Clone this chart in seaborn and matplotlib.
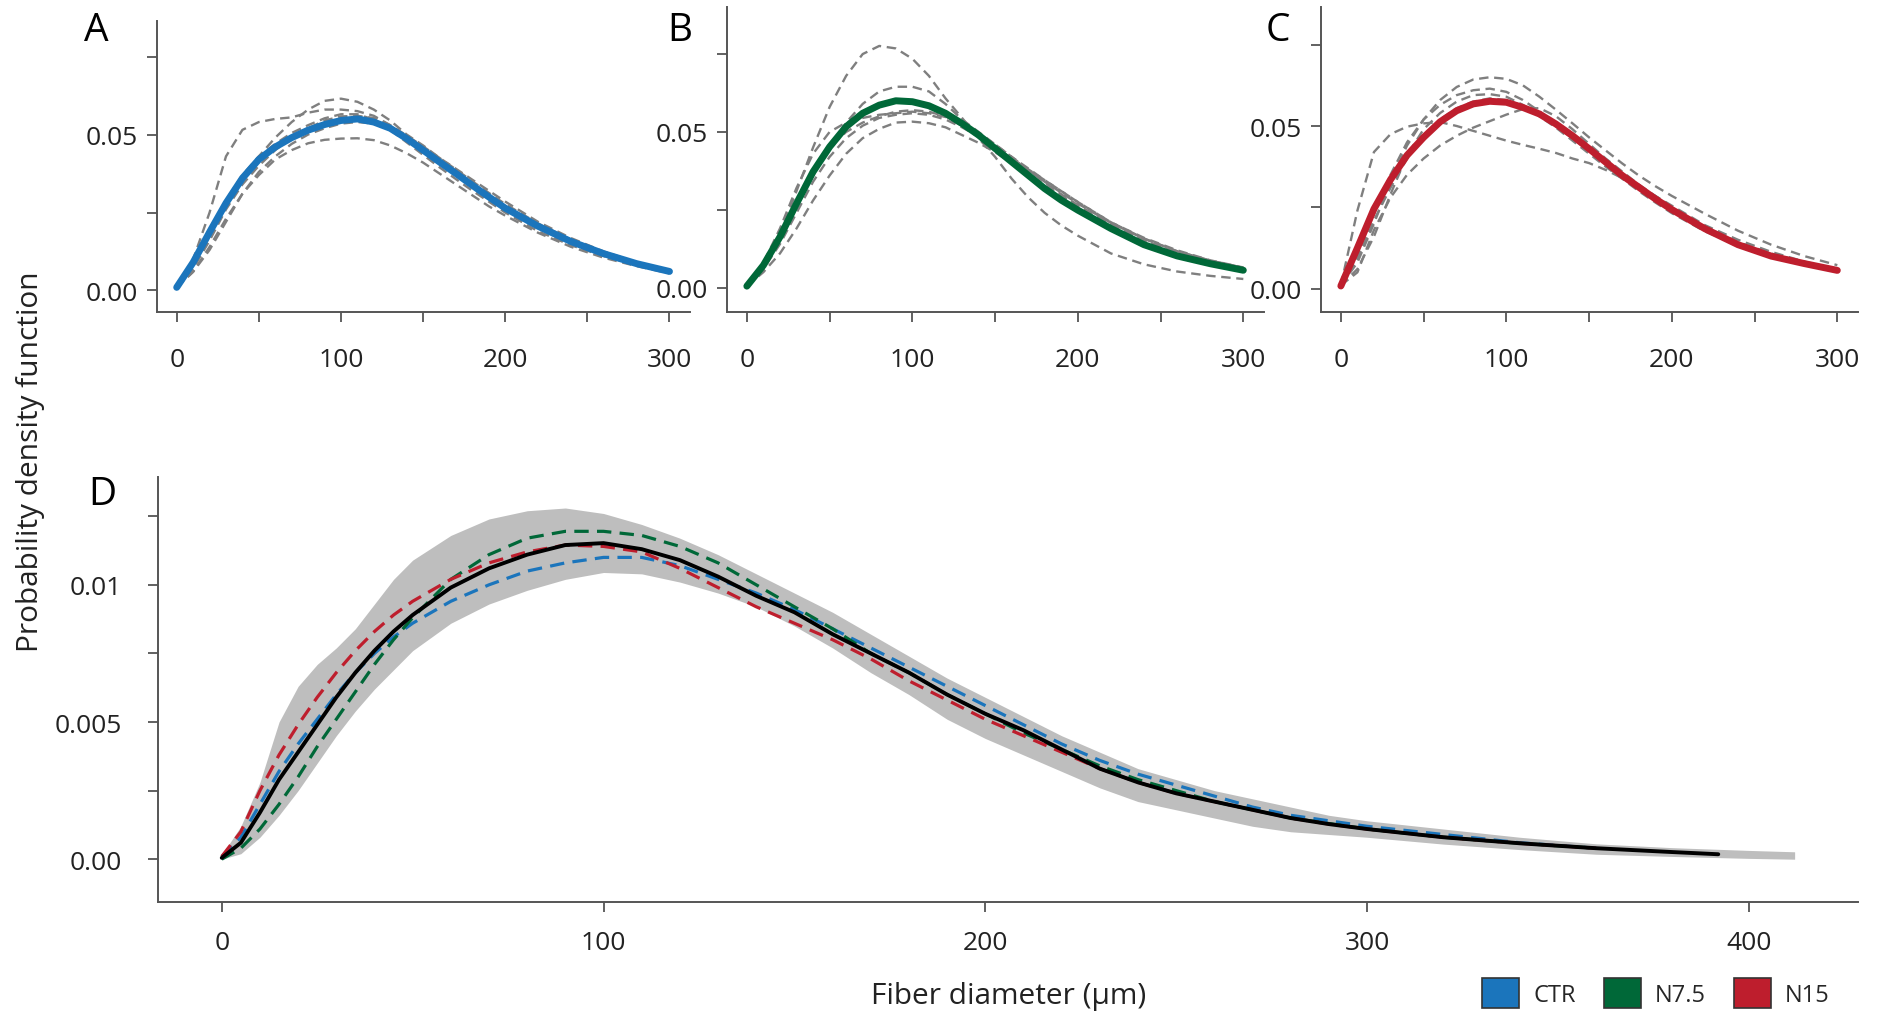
import matplotlib
matplotlib.use("Agg")
import matplotlib.pyplot as plt
from matplotlib.patches import Patch
import seaborn as sns

# ---------------- data ----------------
# panels A-C: fiber diameter grid (um)
x_top = [0, 10, 20, 30, 40, 50, 60, 70, 80, 90, 100, 110, 120, 130, 140, 150,
         160, 170, 180, 190, 200, 220, 240, 260, 280, 300]

ctr_mean = [0.001, 0.009, 0.0187, 0.028, 0.036, 0.042, 0.046, 0.049, 0.0514, 0.0532, 0.0545, 0.055, 0.054,
            0.052, 0.0487, 0.045, 0.0412, 0.0375, 0.0337, 0.030, 0.0264, 0.0206, 0.0157, 0.0118, 0.0086, 0.0061]
ctr_animals = [
    [0.001, 0.009, 0.019, 0.028, 0.036, 0.043, 0.049, 0.054, 0.058, 0.0608, 0.0615, 0.0605, 0.058, 0.0545,
     0.050, 0.0465, 0.0425, 0.039, 0.0355, 0.032, 0.0285, 0.022, 0.0168, 0.0125, 0.009, 0.0065],
    [0.001, 0.010, 0.025, 0.043, 0.0515, 0.054, 0.055, 0.0555, 0.057, 0.058, 0.058, 0.0575, 0.056, 0.053,
     0.049, 0.045, 0.041, 0.0372, 0.0335, 0.030, 0.0265, 0.0205, 0.0155, 0.0116, 0.0085, 0.006],
    [0.001, 0.006, 0.014, 0.023, 0.031, 0.037, 0.042, 0.045, 0.0472, 0.0483, 0.0487, 0.0488, 0.0482, 0.0465,
     0.044, 0.041, 0.0375, 0.034, 0.0305, 0.027, 0.024, 0.0185, 0.014, 0.0105, 0.0078, 0.0055],
    [0.001, 0.007, 0.016, 0.026, 0.034, 0.040, 0.045, 0.049, 0.052, 0.0545, 0.0558, 0.056, 0.0553, 0.053,
     0.0497, 0.0462, 0.0425, 0.0388, 0.035, 0.0313, 0.0277, 0.0215, 0.0163, 0.0122, 0.009, 0.0065],
    [0.001, 0.008, 0.018, 0.029, 0.037, 0.043, 0.047, 0.0505, 0.053, 0.0552, 0.0565, 0.0565, 0.0548, 0.0515,
     0.0475, 0.0435, 0.0395, 0.0357, 0.032, 0.0285, 0.025, 0.019, 0.0145, 0.011, 0.0082, 0.006],
    [0.001, 0.006, 0.013, 0.022, 0.031, 0.038, 0.043, 0.047, 0.050, 0.052, 0.0535, 0.054, 0.0535, 0.0515,
     0.0485, 0.045, 0.041, 0.0375, 0.034, 0.0305, 0.027, 0.021, 0.016, 0.012, 0.0088, 0.0063],
]

n75_mean = [0.0005, 0.0072, 0.0163, 0.027, 0.0372, 0.0452, 0.0517, 0.056, 0.0586, 0.060, 0.0597, 0.0584, 0.056,
            0.0527, 0.049, 0.0447, 0.0404, 0.0361, 0.0318, 0.0281, 0.0249, 0.019, 0.0138, 0.0102, 0.0077, 0.0056]
n75_animals = [
    [0.0005, 0.007, 0.017, 0.031, 0.045, 0.058, 0.068, 0.075, 0.0776, 0.0768, 0.0735, 0.068, 0.0608, 0.0545,
     0.048, 0.042, 0.035, 0.029, 0.024, 0.020, 0.0167, 0.011, 0.0075, 0.0052, 0.0038, 0.0028],
    [0.0005, 0.006, 0.015, 0.026, 0.036, 0.045, 0.053, 0.059, 0.063, 0.0645, 0.0645, 0.063, 0.059, 0.054,
     0.050, 0.046, 0.042, 0.0378, 0.0338, 0.030, 0.0265, 0.0205, 0.0152, 0.0113, 0.0085, 0.0062],
    [0.0005, 0.005, 0.011, 0.019, 0.028, 0.036, 0.043, 0.048, 0.051, 0.053, 0.0533, 0.0528, 0.0515, 0.049,
     0.0465, 0.0435, 0.040, 0.0365, 0.033, 0.0295, 0.026, 0.020, 0.015, 0.0112, 0.0083, 0.006],
    [0.0005, 0.006, 0.014, 0.024, 0.034, 0.042, 0.048, 0.052, 0.0545, 0.0555, 0.056, 0.0555, 0.054, 0.0515,
     0.0485, 0.045, 0.0415, 0.038, 0.0345, 0.031, 0.0275, 0.021, 0.0158, 0.0117, 0.0087, 0.0064],
    [0.0005, 0.008, 0.019, 0.032, 0.043, 0.050, 0.053, 0.0545, 0.0555, 0.056, 0.0565, 0.056, 0.0548, 0.052,
     0.0488, 0.0452, 0.0415, 0.0378, 0.034, 0.0305, 0.027, 0.0208, 0.0157, 0.0117, 0.0087, 0.0064],
    [0.0005, 0.007, 0.016, 0.027, 0.037, 0.045, 0.050, 0.053, 0.055, 0.0565, 0.057, 0.0565, 0.055, 0.0525,
     0.0495, 0.046, 0.042, 0.0383, 0.0345, 0.031, 0.0275, 0.021, 0.016, 0.012, 0.0088, 0.0065],
]

n15_mean = [0.0008, 0.0125, 0.0245, 0.0335, 0.041, 0.0465, 0.0513, 0.0547, 0.0568, 0.0576, 0.0573, 0.0557, 0.0537,
            0.0506, 0.047, 0.043, 0.0389, 0.0348, 0.0312, 0.0276, 0.0243, 0.0184, 0.0135, 0.010, 0.0077, 0.0056]
n15_animals = [
    [0.001, 0.008, 0.020, 0.033, 0.044, 0.052, 0.058, 0.062, 0.0643, 0.065, 0.0645, 0.0625, 0.059, 0.055,
     0.0508, 0.0465, 0.0425, 0.0385, 0.0348, 0.0315, 0.0285, 0.023, 0.0178, 0.0135, 0.010, 0.0072],
    [0.001, 0.010, 0.023, 0.035, 0.045, 0.052, 0.0565, 0.0595, 0.061, 0.0615, 0.0605, 0.058, 0.0545, 0.0505,
     0.0465, 0.0425, 0.0385, 0.0345, 0.031, 0.0275, 0.024, 0.018, 0.0135, 0.0103, 0.0078, 0.0058],
    [0.001, 0.006, 0.016, 0.029, 0.041, 0.049, 0.054, 0.0575, 0.0595, 0.0598, 0.059, 0.0565, 0.053, 0.0495,
     0.0455, 0.0415, 0.0375, 0.0338, 0.030, 0.0265, 0.0232, 0.0176, 0.0132, 0.0098, 0.0074, 0.0055],
    [0.001, 0.024, 0.042, 0.0475, 0.0498, 0.0508, 0.0512, 0.050, 0.0485, 0.047, 0.0455, 0.0442, 0.043, 0.0417,
     0.040, 0.0386, 0.0365, 0.034, 0.031, 0.0285, 0.0255, 0.0195, 0.015, 0.0113, 0.0083, 0.0058],
    [0.001, 0.005, 0.018, 0.028, 0.035, 0.040, 0.044, 0.047, 0.0495, 0.0515, 0.0535, 0.0552, 0.0555, 0.053,
     0.049, 0.0445, 0.040, 0.036, 0.032, 0.0285, 0.025, 0.019, 0.0143, 0.0108, 0.0081, 0.006],
    [0.001, 0.009, 0.021, 0.031, 0.040, 0.047, 0.052, 0.0555, 0.0575, 0.0585, 0.058, 0.0562, 0.0535, 0.050,
     0.0462, 0.0423, 0.0385, 0.0345, 0.031, 0.0273, 0.024, 0.0182, 0.0136, 0.0101, 0.0076, 0.0056],
]

# panel D: pooled density, min-max band and group means
x_band = [0, 5, 10, 15, 20, 25, 30, 35, 40, 45, 50, 60, 70, 80, 90, 100, 110, 120, 130, 140, 150, 160, 170,
          180, 190, 200, 210, 220, 230, 240, 250, 260, 270, 280, 290, 300, 320, 340, 360, 380, 400, 412]
band_high = [0.00015, 0.0012, 0.0028, 0.0050, 0.0063, 0.0071, 0.0077, 0.0084, 0.0093, 0.0102, 0.0109, 0.0118,
             0.0124, 0.0127, 0.0128, 0.0126, 0.0122, 0.0117, 0.0111, 0.0104, 0.0097, 0.0090, 0.0082, 0.0074,
             0.0066, 0.0059, 0.0052, 0.0045, 0.0039, 0.0033, 0.0029, 0.0025, 0.0022, 0.0019, 0.0016, 0.0014,
             0.0011, 0.0008, 0.00056, 0.00042, 0.00032, 0.00027]
band_low = [0.0, 0.0002, 0.0008, 0.0016, 0.0025, 0.0035, 0.0045, 0.0054, 0.0062, 0.0069, 0.0076, 0.0086,
            0.0093, 0.0098, 0.0102, 0.01045, 0.0104, 0.0101, 0.0097, 0.0092, 0.0085, 0.0077, 0.0068, 0.0060,
            0.0051, 0.0044, 0.0038, 0.0032, 0.0026, 0.0021, 0.0018, 0.0015, 0.0012, 0.0010, 0.0009, 0.0008,
            0.00055, 0.00035, 0.00018, 0.0001, 0.00003, 0.0]

x_pool = [0, 5, 10, 15, 20, 25, 30, 35, 40, 45, 50, 60, 70, 80, 90, 100, 110, 120, 130, 140, 150, 160, 170,
          180, 190, 200, 210, 220, 230, 240, 250, 260, 270, 280, 290, 300, 320, 340, 360, 380, 392]
pool_mean = [0.00005, 0.0006, 0.0017, 0.0029, 0.0039, 0.0049, 0.0059, 0.0068, 0.0076, 0.0083, 0.0089, 0.0099,
             0.0106, 0.0111, 0.01145, 0.01152, 0.0113, 0.0109, 0.0103, 0.0096, 0.0090, 0.0082, 0.0075, 0.0068,
             0.0060, 0.0053, 0.0047, 0.0040, 0.0033, 0.0028, 0.0024, 0.0021, 0.0018, 0.0015, 0.00128, 0.0011,
             0.0008, 0.00058, 0.0004, 0.00026, 0.00018]

x_group = [0, 5, 10, 15, 20, 25, 30, 35, 40, 45, 50, 60, 70, 80, 90, 100, 110, 120, 130, 140, 150, 160, 170,
           180, 190, 200, 210, 220, 230, 240, 250, 260, 270, 280, 290, 300, 320, 340, 360]
ctr_group = [0.0001, 0.0008, 0.0020, 0.0032, 0.0042, 0.0051, 0.0060, 0.0068, 0.0075, 0.0081, 0.0086, 0.0094,
             0.0100, 0.0105, 0.0108, 0.0110, 0.0110, 0.0107, 0.0102, 0.0097, 0.0091, 0.0084, 0.0077, 0.0070,
             0.0063, 0.0056, 0.0049, 0.0042, 0.0036, 0.0031, 0.0027, 0.0023, 0.0019, 0.0016, 0.0014, 0.0012,
             0.0009, 0.0006, 0.0004]
n75_group = [0.0, 0.0004, 0.0011, 0.0020, 0.0030, 0.0041, 0.0051, 0.0061, 0.0071, 0.0080, 0.0088, 0.0102,
             0.0111, 0.0117, 0.01195, 0.01195, 0.0118, 0.0114, 0.0108, 0.0100, 0.0092, 0.0084, 0.0075, 0.0068,
             0.0060, 0.0053, 0.0046, 0.0040, 0.0034, 0.0029, 0.0025, 0.0021, 0.0018, 0.0015, 0.0013, 0.0011,
             0.0008, 0.00058, 0.0004]
n15_group = [0.0001, 0.0010, 0.0025, 0.0038, 0.0049, 0.0059, 0.0068, 0.0076, 0.0083, 0.0089, 0.0094, 0.0102,
             0.0108, 0.0112, 0.01145, 0.0114, 0.0112, 0.0106, 0.0099, 0.0092, 0.0086, 0.0080, 0.0073, 0.0065,
             0.0058, 0.0051, 0.0045, 0.0039, 0.0033, 0.0028, 0.0024, 0.0021, 0.0018, 0.0015, 0.00128, 0.0011,
             0.0008, 0.00058, 0.0004]

groups = ['CTR', 'N7.5', 'N15']
group_colors = ['#1b75bc', '#006838', '#be1e2d']

# ---------------- style ----------------
sns.set_theme(style="ticks")
plt.rcParams['font.family'] = ['Open Sans', 'DejaVu Sans']
AXIS_GREY = '#555555'
TEXT = '#222222'

W, H = 1881, 1020
fig = plt.figure(figsize=(W / 100, H / 100), dpi=100)


def rect(left, top, right, bottom):
    # pixel box -> figure fraction
    return [left / W, 1 - bottom / H, (right - left) / W, (bottom - top) / H]


def style_axis(ax, xpad, ypad):
    sns.despine(ax=ax)
    for s in ['left', 'bottom']:
        ax.spines[s].set_color(AXIS_GREY)
        ax.spines[s].set_linewidth(1.4)
    ax.tick_params(axis='both', length=7, width=1.3, color=AXIS_GREY,
                   labelcolor=TEXT, labelsize=19)
    ax.tick_params(axis='x', pad=xpad)
    ax.tick_params(axis='y', pad=ypad)
    ax.set_xlabel('')
    ax.set_ylabel('')
    ax.grid(False)


top_panels = [
    (rect(157, 22, 690, 313), ctr_mean, ctr_animals, group_colors[0], (-0.0069, 0.0864), 'A', 96),
    (rect(727, 8, 1264, 313), n75_mean, n75_animals, group_colors[1], (-0.0078, 0.0901), 'B', 680),
    (rect(1321, 8, 1858, 313), n15_mean, n15_animals, group_colors[2], (-0.0072, 0.0866), 'C', 1278),
]

for box, mean, animals, col, ylim, letter, lx in top_panels:
    ax = fig.add_axes(box)
    for a in animals:
        sns.lineplot(x=x_top, y=a, ax=ax, color='#7f7f7f', lw=1.7,
                     linestyle=(0, (4.0, 2.4)))
    sns.lineplot(x=x_top, y=mean, ax=ax, color=col, lw=5,
                 solid_capstyle='round', solid_joinstyle='round')
    ax.set_xlim(-12, 312.5)
    ax.set_ylim(*ylim)
    ax.set_xticks([0, 50, 100, 150, 200, 250, 300])
    ax.set_xticklabels(['0', '', '100', '', '200', '', '300'])
    ax.set_yticks([0, 0.025, 0.05, 0.075])
    ax.set_yticklabels(['0.00', '', '0.05', ''])
    style_axis(ax, xpad=18, ypad=7)
    fig.text(lx / W, 1 - 31 / H, letter, fontsize=28, color='black',
             ha='center', va='center')

# panel D
axd = fig.add_axes(rect(158, 478, 1858, 903))
axd.fill_between(x_band, band_low, band_high, color='#bebebe', lw=0)
for name, vals, col in zip(groups, [ctr_group, n75_group, n15_group], group_colors):
    sns.lineplot(x=x_group, y=vals, ax=axd, color=col, lw=2.3,
                 linestyle=(0, (4.5, 2.6)))
sns.lineplot(x=x_pool, y=pool_mean, ax=axd, color='black', lw=2.8,
             solid_capstyle='round', solid_joinstyle='round')
axd.set_xlim(-16.7, 428.6)
axd.set_ylim(-0.00156, 0.01393)
axd.set_xticks([0, 100, 200, 300, 400])
axd.set_yticks([0, 0.0025, 0.005, 0.0075, 0.01, 0.0125])
axd.set_yticklabels(['0.00', '', '0.005', '', '0.01', ''])
style_axis(axd, xpad=13, ypad=19)
fig.text(102 / W, 1 - 495 / H, 'D', fontsize=28, color='black',
         ha='center', va='center')

fig.text(31 / W, 1 - 462 / H, 'Probability density function', rotation=90,
         fontsize=21.5, color=TEXT, ha='center', va='center')
fig.text(1009 / W, 1 - 997 / H, 'Fiber diameter (µm)', fontsize=21.5,
         color=TEXT, ha='center', va='center')

handles = [Patch(facecolor=c, edgecolor='#333333', lw=1.2, label=g)
           for g, c in zip(groups, group_colors)]
fig.legend(handles=handles, loc='center', bbox_to_anchor=(1656 / W, 1 - 994 / H),
           ncol=3, frameon=False, fontsize=17, handlelength=1.55,
           handleheight=1.55, handletextpad=0.6, columnspacing=1.2)

fig.savefig('out.png', dpi=100, facecolor='white')
